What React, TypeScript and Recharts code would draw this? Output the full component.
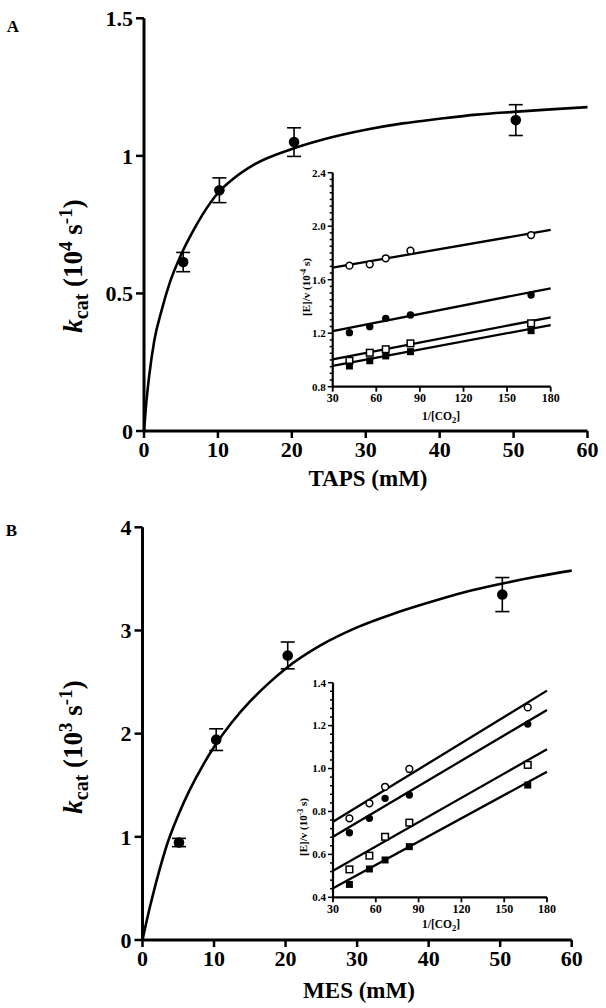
import React from "react";
import { ComposedChart, Line, Scatter, XAxis, YAxis, ErrorBar, Label } from "recharts";

const FONT = '"Liberation Serif", "Times New Roman", serif';

// ---- Panel A: TAPS ----
const tapsConc = [5.3, 10.2, 20.3, 50.3];
const tapsKcat = [0.614, 0.875, 1.05, 1.13];
const tapsErr = [0.035, 0.045, 0.052, 0.056];
const tapsFitX = [0, 0.3, 0.7, 1.4, 2.4, 3.5, 5, 6.5, 8, 10, 12, 15, 20, 25, 30, 35, 40, 45, 50, 55, 60];
const tapsFitY = [0, 0.1, 0.2, 0.33, 0.44, 0.54, 0.64, 0.72, 0.79, 0.865, 0.915, 0.97, 1.025, 1.065, 1.095, 1.118, 1.135, 1.15, 1.16, 1.169, 1.177];
const tapsYTicks = [0, 0.5, 1, 1.5];

// ---- Panel B: MES ----
const mesConc = [5.1, 10.3, 20.3, 50.3];
const mesKcat = [0.945, 1.942, 2.758, 3.348];
const mesErr = [0.04, 0.105, 0.13, 0.165];
const mesFitX = [0, 0.5, 1, 1.5, 2.3, 3.5, 5, 6.5, 8.5, 10, 12.5, 15, 17.5, 20, 25, 30, 35, 40, 45, 50, 55, 60];
const mesFitY = [0, 0.16, 0.31, 0.45, 0.66, 0.94, 1.21, 1.44, 1.7, 1.87, 2.11, 2.31, 2.48, 2.63, 2.86, 3.03, 3.16, 3.27, 3.37, 3.45, 3.52, 3.58];
const mesYTicks = [0, 1, 2, 3, 4];

const concTicks = [0, 10, 20, 30, 40, 50, 60];

// ---- Insets: [E]/v vs 1/[CO2] ----
const invCO2 = [41.5, 55.5, 66.5, 83.5, 166.5];
const fitEnds = [30, 180];
const invTicks = [30, 60, 90, 120, 150, 180];

const tapsOpenCircle = [1.705, 1.715, 1.76, 1.817, 1.934];
const tapsFilledCircle = [1.204, 1.249, 1.311, 1.336, 1.486];
const tapsOpenSquare = [0.994, 1.054, 1.08, 1.124, 1.274];
const tapsFilledSquare = [0.955, 0.994, 1.03, 1.062, 1.219];
const tapsLines = [
  [1.69, 1.972],
  [1.216, 1.536],
  [1.005, 1.319],
  [0.955, 1.261],
];
const tapsInsetTicks = [0.8, 0.85, 0.9, 0.95, 1.0, 1.05, 1.1, 1.15, 1.2, 1.25, 1.3, 1.35, 1.4, 1.45, 1.5, 1.55, 1.6, 1.65, 1.7, 1.75, 1.8, 1.85, 1.9, 1.95, 2.0, 2.05, 2.1, 2.15, 2.2, 2.25, 2.3, 2.35, 2.4];
const tapsInsetMajor = [0.8, 1.2, 1.6, 2.0, 2.4];

const mesOpenCircle = [0.768, 0.838, 0.915, 0.998, 1.285];
const mesFilledCircle = [0.701, 0.768, 0.861, 0.877, 1.207];
const mesOpenSquare = [0.53, 0.594, 0.682, 0.748, 1.017];
const mesFilledSquare = [0.46, 0.532, 0.574, 0.636, 0.923];
const mesLines = [
  [0.752, 1.363],
  [0.682, 1.273],
  [0.524, 1.09],
  [0.442, 0.985],
];
const mesInsetTicks = [0.4, 0.44, 0.48, 0.52, 0.56, 0.6, 0.64, 0.68, 0.72, 0.76, 0.8, 0.84, 0.88, 0.92, 0.96, 1.0, 1.04, 1.08, 1.12, 1.16, 1.2, 1.24, 1.28, 1.32, 1.36, 1.4];
const mesInsetMajor = [0.4, 0.6, 0.8, 1.0, 1.2, 1.4];

const toPoints = (xs: number[], ys: number[]) => xs.map((x, i) => ({ x, y: ys[i] }));
const toErrPoints = (xs: number[], ys: number[], es: number[]) =>
  xs.map((x, i) => ({ x, y: ys[i], err: es[i] }));

const axisStyle = { stroke: "#000", strokeWidth: 3 };
const tickLineStyle = { stroke: "#000", strokeWidth: 2.5 };
const mainTick = { fontSize: 22, fontWeight: 700, fill: "#000", fontFamily: FONT };
const insetTick = { fontSize: 12, fontWeight: 700, fill: "#000", fontFamily: FONT };

const bigDot = (p: any) => <circle cx={p.cx} cy={p.cy} r={5.3} fill="#000" />;
const openCircle = (p: any) => <circle cx={p.cx} cy={p.cy} r={3.4} fill="#fff" stroke="#000" strokeWidth={1.5} />;
const filledCircle = (p: any) => <circle cx={p.cx} cy={p.cy} r={3.7} fill="#000" />;
const openSquare = (p: any) => (
  <rect x={p.cx - 3.3} y={p.cy - 3.3} width={6.6} height={6.6} fill="#fff" stroke="#000" strokeWidth={1.5} />
);
const filledSquare = (p: any) => <rect x={p.cx - 3.5} y={p.cy - 3.5} width={7} height={7} fill="#000" />;

// y tick with long major / short minor marks, labels only on majors
const makeInsetTick = (major: number[]) => (props: any) => {
  const { x, y, payload } = props;
  const isMajor = major.some((m) => Math.abs(m - payload.value) < 1e-6);
  return (
    <g>
      <line x1={x} x2={x - (isMajor ? 5 : 3)} y1={y} y2={y} stroke="#000" strokeWidth={1.5} />
      {isMajor && (
        <text x={x - 7} y={y} dy="0.35em" textAnchor="end" fontSize={11} fontWeight={700} fontFamily={FONT} fill="#000">
          {payload.value.toFixed(1)}
        </text>
      )}
    </g>
  );
};

const KcatTitle = ({ cx, cy, exp }: { cx: number; cy: number; exp: string }) => (
  <text transform={`translate(${cx},${cy}) rotate(-90)`} textAnchor="middle" fontFamily={FONT} fontWeight={700} fontSize={27} fill="#000">
    <tspan fontStyle="italic">k</tspan>
    <tspan fontSize={20} dy={6}>cat</tspan>
    <tspan dy={-6}> (10</tspan>
    <tspan fontSize={19} dy={-10}>{exp}</tspan>
    <tspan dy={10}> s</tspan>
    <tspan fontSize={19} dy={-10}>-1</tspan>
    <tspan dy={10}>)</tspan>
  </text>
);

const RateTitle = ({ cx, cy, exp }: { cx: number; cy: number; exp: string }) => (
  <text transform={`translate(${cx},${cy}) rotate(-90)`} textAnchor="middle" fontFamily={FONT} fontWeight={700} fontSize={11} fill="#000">
    <tspan>[E]/v (10</tspan>
    <tspan fontSize={8} dy={-4}>{exp}</tspan>
    <tspan dy={4}> s)</tspan>
  </text>
);

const CO2Title = ({ cx, cy }: { cx: number; cy: number }) => (
  <text x={cx} y={cy} textAnchor="middle" fontFamily={FONT} fontWeight={700} fontSize={11.5} fill="#000">
    <tspan>1/[CO</tspan>
    <tspan fontSize={8.5} dy={3}>2</tspan>
    <tspan dy={-3}>]</tspan>
  </text>
);

const PlainTitle = ({ cx, cy, text }: { cx: number; cy: number; text: string }) => (
  <text x={cx} y={cy} textAnchor="middle" fontFamily={FONT} fontWeight={700} fontSize={23} fill="#000">
    {text}
  </text>
);

type MainProps = {
  top: number;
  height: number;
  margin: { top: number; right: number; bottom: number; left: number };
  yMax: number;
  yTicks: number[];
  fit: { x: number; y: number }[];
  points: { x: number; y: number; err: number }[];
  xTitle: string;
  xTitlePos: [number, number];
  yTitlePos: [number, number];
  exp: string;
};

const MainPanel = (p: MainProps) => (
  <div style={{ position: "absolute", left: 0, top: p.top }}>
    <ComposedChart width={606} height={p.height} margin={p.margin}>
      <XAxis
        type="number"
        dataKey="x"
        domain={[0, 60]}
        ticks={concTicks}
        interval={0}
        height={40}
        tickSize={7}
        tickMargin={3}
        axisLine={axisStyle}
        tickLine={tickLineStyle}
        tick={mainTick}
      >
        <Label content={() => <PlainTitle cx={p.xTitlePos[0]} cy={p.xTitlePos[1]} text={p.xTitle} />} />
      </XAxis>
      <YAxis
        type="number"
        dataKey="y"
        domain={[0, p.yMax]}
        ticks={p.yTicks}
        interval={0}
        width={60}
        tickSize={8}
        tickMargin={3}
        axisLine={axisStyle}
        tickLine={tickLineStyle}
        tick={mainTick}
      >
        <Label content={() => <KcatTitle cx={p.yTitlePos[0]} cy={p.yTitlePos[1]} exp={p.exp} />} />
      </YAxis>
      <Line
        data={p.fit}
        dataKey="y"
        type="monotone"
        stroke="#000"
        strokeWidth={2.6}
        dot={false}
        activeDot={false}
        isAnimationActive={false}
      />
      <Scatter data={p.points} dataKey="y" shape={bigDot} isAnimationActive={false}>
        <ErrorBar dataKey="err" direction="y" width={7} stroke="#000" strokeWidth={1.6} isAnimationActive={false} />
      </Scatter>
    </ComposedChart>
  </div>
);

type InsetProps = {
  left: number;
  top: number;
  height: number;
  margin: { top: number; right: number; bottom: number; left: number };
  yDomain: [number, number];
  yTicks: number[];
  yMajor: number[];
  lines: number[][];
  series: number[][];
  exp: string;
  yTitlePos: [number, number];
  xTitlePos: [number, number];
};

const shapes = [openCircle, filledCircle, openSquare, filledSquare];

const InsetPanel = (p: InsetProps) => (
  <div style={{ position: "absolute", left: p.left, top: p.top }}>
    <ComposedChart width={290} height={p.height} margin={p.margin} style={{ background: "transparent" }}>
      <XAxis
        type="number"
        dataKey="x"
        domain={[30, 180]}
        ticks={invTicks}
        interval={0}
        height={30}
        tickSize={5}
        tickMargin={2}
        axisLine={{ stroke: "#000", strokeWidth: 2.2 }}
        tickLine={{ stroke: "#000", strokeWidth: 1.8 }}
        tick={insetTick}
      >
        <Label content={() => <CO2Title cx={p.xTitlePos[0]} cy={p.xTitlePos[1]} />} />
      </XAxis>
      <YAxis
        type="number"
        dataKey="y"
        domain={p.yDomain}
        ticks={p.yTicks}
        interval={0}
        width={40}
        tickSize={0}
        tickMargin={0}
        tickLine={false}
        axisLine={{ stroke: "#000", strokeWidth: 2.2 }}
        tick={makeInsetTick(p.yMajor)}
      >
        <Label content={() => <RateTitle cx={p.yTitlePos[0]} cy={p.yTitlePos[1]} exp={p.exp} />} />
      </YAxis>
      {p.lines.map((ends, i) => (
        <Line
          key={`l${i}`}
          data={toPoints(fitEnds, ends)}
          dataKey="y"
          type="linear"
          stroke="#000"
          strokeWidth={2.3}
          dot={false}
          activeDot={false}
          isAnimationActive={false}
        />
      ))}
      {p.series.map((ys, i) => (
        <Scatter key={`s${i}`} data={toPoints(invCO2, ys)} dataKey="y" shape={shapes[i]} isAnimationActive={false} />
      ))}
    </ComposedChart>
  </div>
);

export default function App() {
  return (
    <div style={{ position: "absolute", left: 0, top: 0, width: 606, height: 1008, background: "#fff", fontFamily: FONT }}>
      <MainPanel
        top={0}
        height={500}
        margin={{ top: 18.3, right: 18.5, bottom: 29, left: 84 }}
        yMax={1.5}
        yTicks={tapsYTicks}
        fit={toPoints(tapsFitX, tapsFitY)}
        points={toErrPoints(tapsConc, tapsKcat, tapsErr)}
        xTitle="TAPS (mM)"
        xTitlePos={[368, 486]}
        yTitlePos={[82, 266]}
        exp="4"
      />
      <InsetPanel
        left={280}
        top={160}
        height={270}
        margin={{ top: 12.7, right: 19.3, bottom: 13.3, left: 12.7 }}
        yDomain={[0.8, 2.4]}
        yTicks={tapsInsetTicks}
        yMajor={tapsInsetMajor}
        lines={tapsLines}
        series={[tapsOpenCircle, tapsFilledCircle, tapsOpenSquare, tapsFilledSquare]}
        exp="-4"
        yTitlePos={[30, 127]}
        xTitlePos={[161, 260]}
      />
      <MainPanel
        top={500}
        height={508}
        margin={{ top: 27.3, right: 34.3, bottom: 28, left: 82.5 }}
        yMax={4}
        yTicks={mesYTicks}
        fit={toPoints(mesFitX, mesFitY)}
        points={toErrPoints(mesConc, mesKcat, mesErr)}
        xTitle="MES (mM)"
        xTitlePos={[359, 498]}
        yTitlePos={[82, 247]}
        exp="3"
      />
      <InsetPanel
        left={280}
        top={670}
        height={275}
        margin={{ top: 12.7, right: 23, bottom: 17.7, left: 13 }}
        yDomain={[0.4, 1.4]}
        yTicks={mesInsetTicks}
        yMajor={mesInsetMajor}
        lines={mesLines}
        series={[mesOpenCircle, mesFilledCircle, mesOpenSquare, mesFilledSquare]}
        exp="-3"
        yTitlePos={[27, 157]}
        xTitlePos={[161, 258]}
      />
      <div style={{ position: "absolute", left: 6.7, top: 17.5, fontSize: 17, fontWeight: 700, lineHeight: 1 }}>A</div>
      <div style={{ position: "absolute", left: 5.8, top: 522, fontSize: 17, fontWeight: 700, lineHeight: 1 }}>B</div>
    </div>
  );
}
